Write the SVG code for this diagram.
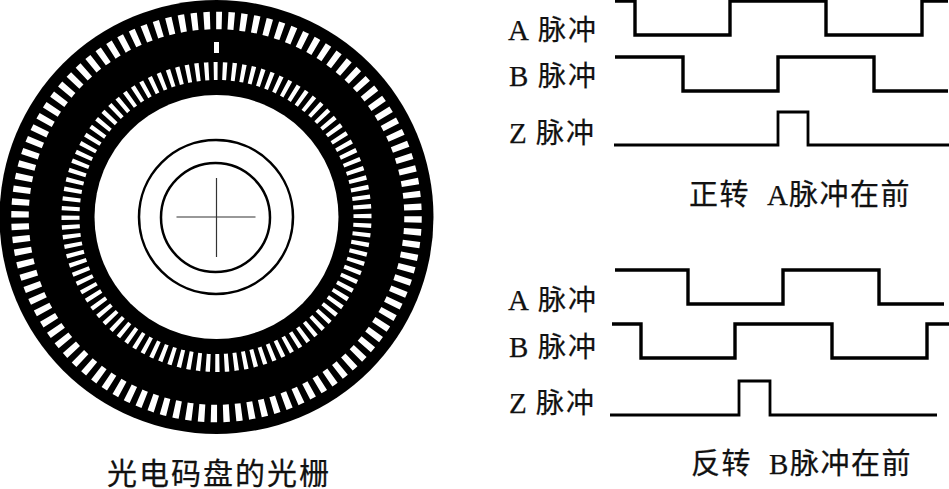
<svg xmlns="http://www.w3.org/2000/svg" width="949" height="489" viewBox="0 0 949 489">
<style>
text{font-family:"Liberation Serif","Noto Sans CJK SC",serif;fill:#111;stroke:#111;stroke-width:.25px}
.l{font-size:28px;letter-spacing:2px}
.a{font-size:29px;letter-spacing:0}
.c{font-size:29px;letter-spacing:1.500px}
.d{font-size:30px;letter-spacing:2px}
.w{fill:none;stroke:#000;stroke-linejoin:miter}
.t{stroke-width:3.4px}
.z{stroke-width:2.800px}
.r{fill:none;stroke:#000}
</style>
<rect width="949" height="489" fill="#fff"/>
<g id="disk">
<circle cx="216.500" cy="217" r="217" fill="#000"/>
<circle cx="216.500" cy="217" r="196.500" fill="none" stroke="#fff" stroke-width="17.500" stroke-dasharray="6.200 6.146" stroke-dashoffset="0.8" transform="rotate(-90 216.500 217)"/>
<circle cx="216.500" cy="217" r="146" fill="none" stroke="#fff" stroke-width="18" stroke-dasharray="4.200 4.973" stroke-dashoffset="3.100" transform="rotate(-90 216.500 217)"/>
<rect x="214" y="42" width="5" height="11" fill="#fff"/>
<circle cx="216.500" cy="217" r="122" fill="#fff"/>
<circle class="r" cx="216" cy="217" r="77" stroke-width="2.500"/>
<circle class="r" cx="215.500" cy="217.500" r="54.500" stroke-width="2.500"/>
<path d="M216.500 178V257M176.500 217H255.500" fill="none" stroke="#333" stroke-width="1.200"/>
</g>
<text id="caption-disk" class="d" x="107" y="484">光电码盘的光栅</text>
<g id="forward-labels">
<text class="l" y="40"><tspan class="a" x="508">A </tspan><tspan x="538">脉冲</tspan></text>
<text class="l" y="86"><tspan class="a" x="509">B </tspan><tspan x="538">脉冲</tspan></text>
<text class="l" y="143"><tspan class="a" x="509">Z </tspan><tspan x="536">脉冲</tspan></text>
</g>
<g id="connectors">
<path class="w t" d="M615 1H635V35H730V1H826V35H922V1H948"/>
<path class="w t" d="M615 57H683V91H778V57H874V91H948"/>
<path class="w z" d="M614 145H778V112H808V145H949"/>
<path class="w t" d="M615 270H688V304H783V270H879V304H944"/>
<path class="w t" d="M612 324H641V358H735V324H832V358H927V324H949"/>
<path class="w z" d="M610 415H739V381H770V415H937"/>
</g>
<text id="caption-forward" class="c" y="205"><tspan x="689">正转 </tspan><tspan class="a" x="767">A</tspan><tspan x="789">脉冲在前</tspan></text>
<g id="reverse-labels">
<text class="l" y="310"><tspan class="a" x="508">A </tspan><tspan x="538">脉冲</tspan></text>
<text class="l" y="357"><tspan class="a" x="509">B </tspan><tspan x="538">脉冲</tspan></text>
<text class="l" y="413"><tspan class="a" x="509">Z </tspan><tspan x="536">脉冲</tspan></text>
</g>
<text id="caption-reverse" class="c" y="474"><tspan x="691">反转 </tspan><tspan class="a" x="769">B</tspan><tspan x="790">脉冲在前</tspan></text>
</svg>
